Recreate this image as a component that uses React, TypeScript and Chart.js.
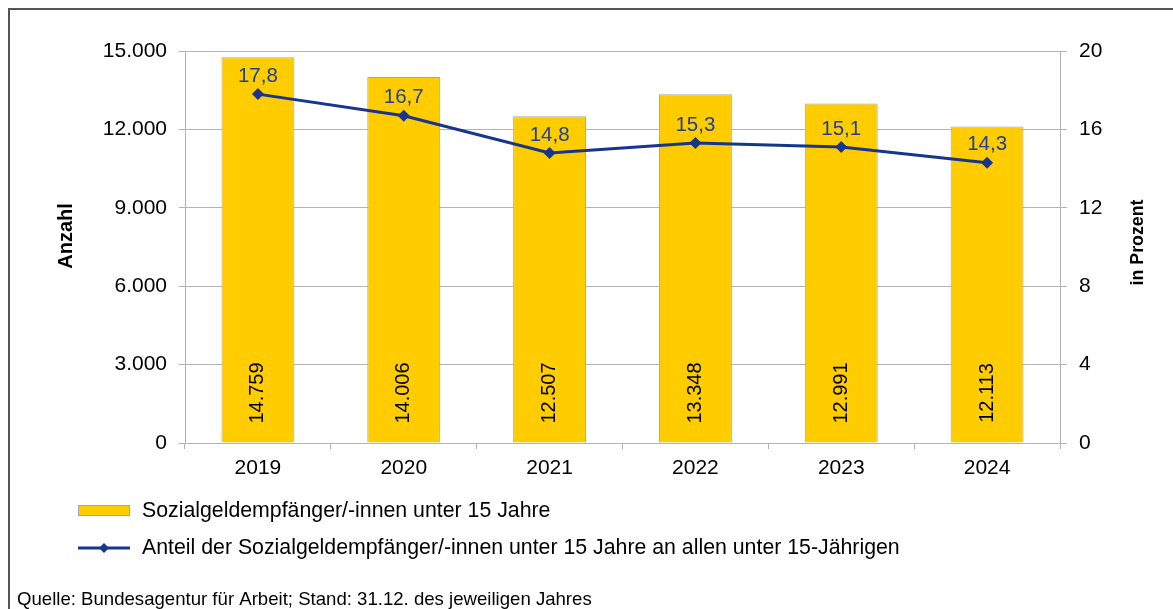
import React, { useEffect, useRef } from 'react';
import { Chart, registerables } from 'chart.js';

Chart.register(...registerables);

const years = ['2019', '2020', '2021', '2022', '2023', '2024'];
const recipients = [14759, 14006, 12507, 13348, 12991, 12113];
const shares = [17.8, 16.7, 14.8, 15.3, 15.1, 14.3];
const barLabel = 'Sozialgeldempfänger/-innen unter 15 Jahre';
const lineLabel = 'Anteil der Sozialgeldempfänger/-innen unter 15 Jahre an allen unter 15-Jährigen';
const leftTitle = 'Anzahl';
const rightTitle = 'in Prozent';
const sourceNote = 'Quelle: Bundesagentur für Arbeit; Stand: 31.12. des jeweiligen Jahres';

const FONT = '"Liberation Sans", Arial, sans-serif';
const BAR_FILL = '#FFCC00';
const BAR_BORDER = '#A6A6A6';
const LINE_COLOR = '#17358F';
const LABEL_BLUE = '#1F3F98';
const GRID = '#B3B3B3';

const fmtThousands = (v: number) => String(Math.round(v)).replace(/\B(?=(\d{3})+(?!\d))/g, '.');
const fmtDec = (v: number) => v.toFixed(1).replace('.', ',');

function diamond(ctx: CanvasRenderingContext2D, x: number, y: number, r: number) {
  ctx.beginPath();
  ctx.moveTo(x - r, y);
  ctx.lineTo(x, y - r);
  ctx.lineTo(x + r, y);
  ctx.lineTo(x, y + r);
  ctx.closePath();
  ctx.fill();
}

const decor = {
  id: 'decor',
  beforeDraw(chart: any) {
    const ctx = chart.ctx as CanvasRenderingContext2D;
    ctx.save();
    ctx.fillStyle = '#ffffff';
    ctx.fillRect(0, 0, chart.width, chart.height);
    ctx.strokeStyle = '#555555';
    ctx.lineWidth = 2;
    ctx.beginPath();
    ctx.moveTo(9, chart.height + 2);
    ctx.lineTo(9, 9);
    ctx.lineTo(chart.width + 2, 9);
    ctx.stroke();
    ctx.restore();
  },
  afterDatasetsDraw(chart: any) {
    const ctx = chart.ctx as CanvasRenderingContext2D;
    const yScale = chart.scales.y;
    const base = yScale.getPixelForValue(0);
    ctx.save();
    ctx.font = `20px ${FONT}`;
    const barMeta = chart.getDatasetMeta(0);
    barMeta.data.forEach((el: any, i: number) => {
      ctx.save();
      ctx.translate(el.x, base - 50);
      ctx.rotate(-Math.PI / 2);
      ctx.fillStyle = '#000000';
      ctx.textAlign = 'center';
      ctx.textBaseline = 'middle';
      ctx.fillText(fmtThousands(recipients[i]), 0, 0);
      ctx.restore();
    });
    ctx.font = `20.5px ${FONT}`;
    const lineMeta = chart.getDatasetMeta(1);
    lineMeta.data.forEach((el: any, i: number) => {
      ctx.fillStyle = LABEL_BLUE;
      ctx.textAlign = 'center';
      ctx.textBaseline = 'middle';
      ctx.fillText(fmtDec(shares[i]), el.x, el.y - 18);
    });
    ctx.restore();
  },
  afterDraw(chart: any) {
    const ctx = chart.ctx as CanvasRenderingContext2D;
    ctx.save();
    ctx.fillStyle = '#000000';
    ctx.textAlign = 'center';
    ctx.textBaseline = 'middle';
    ctx.font = `bold 20px ${FONT}`;
    ctx.save();
    ctx.translate(66, 236);
    ctx.rotate(-Math.PI / 2);
    ctx.fillText(leftTitle, 0, 0);
    ctx.restore();
    ctx.font = `bold 17.8px ${FONT}`;
    ctx.save();
    ctx.translate(1138, 242.5);
    ctx.rotate(-Math.PI / 2);
    ctx.fillText(rightTitle, 0, 0);
    ctx.restore();

    // legend
    ctx.font = `21.3px ${FONT}`;
    ctx.textAlign = 'left';
    ctx.textBaseline = 'middle';
    ctx.fillStyle = BAR_FILL;
    ctx.fillRect(78, 505, 52, 11);
    ctx.strokeStyle = BAR_BORDER;
    ctx.lineWidth = 1;
    ctx.strokeRect(78.5, 505.5, 51, 10);
    ctx.fillStyle = '#000000';
    ctx.fillText(barLabel, 142, 511);

    ctx.strokeStyle = LINE_COLOR;
    ctx.lineWidth = 3;
    ctx.beginPath();
    ctx.moveTo(78, 548);
    ctx.lineTo(130, 548);
    ctx.stroke();
    ctx.fillStyle = LINE_COLOR;
    diamond(ctx, 104, 548, 5);
    ctx.fillStyle = '#000000';
    ctx.fillText(lineLabel, 142, 548);

    ctx.font = `18.6px ${FONT}`;
    ctx.fillText(sourceNote, 17, 600);
    ctx.restore();
  },
};

export default function App() {
  const ref = useRef<HTMLCanvasElement | null>(null);
  useEffect(() => {
    if (!ref.current) return;
    const tickFont = { family: FONT, size: 21 };
    const chart = new Chart(ref.current, {
      type: 'bar',
      data: {
        labels: years,
        datasets: [
          {
            type: 'bar',
            label: barLabel,
            data: recipients,
            backgroundColor: BAR_FILL,
            borderColor: BAR_BORDER,
            borderWidth: 1,
            barPercentage: 0.5,
            categoryPercentage: 1,
            yAxisID: 'y',
            order: 1,
          },
          {
            type: 'line',
            label: lineLabel,
            data: shares,
            borderColor: LINE_COLOR,
            backgroundColor: LINE_COLOR,
            borderWidth: 3,
            pointStyle: 'rectRot',
            pointRadius: 6,
            pointBorderWidth: 0,
            pointBackgroundColor: LINE_COLOR,
            tension: 0,
            yAxisID: 'y1',
            order: 0,
          },
        ],
      },
      options: {
        responsive: false,
        animation: false,
        devicePixelRatio: 1,
        layout: { padding: { top: 51, bottom: 126, left: 0, right: 0 } },
        plugins: {
          legend: { display: false },
          tooltip: { enabled: false },
          title: { display: false },
        },
        scales: {
          x: {
            grid: { display: true, drawOnChartArea: false, offset: true, tickLength: 6, color: GRID },
            border: { display: true, color: GRID },
            ticks: { color: '#000000', font: tickFont, padding: 7 },
            afterFit: (s: any) => { s.height = 40; },
          },
          y: {
            position: 'left',
            min: 0,
            max: 15000,
            ticks: {
              stepSize: 3000,
              color: '#000000',
              font: tickFont,
              padding: 12,
              callback: (v: any) => fmtThousands(Number(v)),
            },
            grid: { color: GRID, tickLength: 6, drawTicks: true },
            border: { display: true, color: GRID },
            afterFit: (s: any) => { s.width = 185; },
          },
          y1: {
            position: 'right',
            min: 0,
            max: 20,
            ticks: {
              stepSize: 4,
              color: '#000000',
              font: tickFont,
              padding: 12,
            },
            grid: { drawOnChartArea: false, color: GRID, tickLength: 7 },
            border: { display: true, color: GRID },
            afterFit: (s: any) => { s.width = 113; },
          },
        },
      },
      plugins: [decor],
    });
    return () => chart.destroy();
  }, []);
  return (
    <div style={{ position: 'fixed', left: 0, top: 0, width: 1173, height: 609, background: '#fff' }}>
      <canvas ref={ref} width={1173} height={609} style={{ display: 'block' }} />
    </div>
  );
}
